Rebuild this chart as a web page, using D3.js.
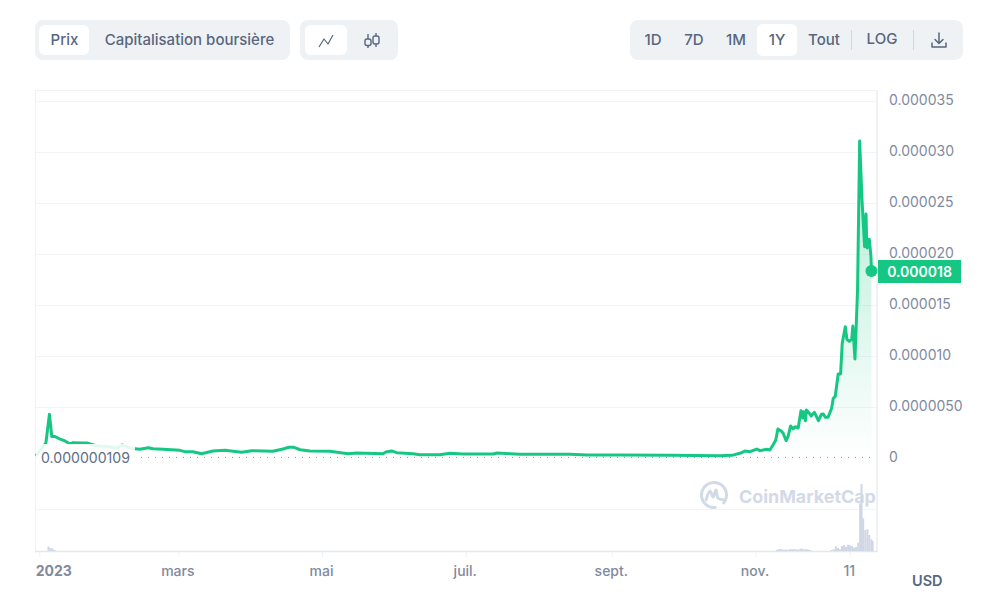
<!DOCTYPE html>
<html><head><meta charset="utf-8">
<script src="https://cdnjs.cloudflare.com/ajax/libs/d3/7.8.5/d3.min.js"></script>
<style>
html,body{margin:0;padding:0;background:#fff;overflow:hidden}
svg{display:block}
text{font-family:Inter,"Noto Sans",sans-serif}
</style></head><body>
<svg id="c" width="989" height="600"></svg>
<script>
// Days since 2023-01-01
const priceDays = [
 -1.4,2.8,4.3,5.3,6.7,8.8,10.9,13.1,14.3,18.6,
 20.2,24.5,28.7,33,35.1,38.5,40.6,42.7,46.3,48.3,
 52.5,59.7,61.8,65.2,68.9,73.7,78.8,85.9,90.2,99.2,
 103.4,106,108.1,110.7,114.9,123.4,131,134.7,145.9,147.1,
 149.6,151.7,158.6,161.6,170,174.3,179.8,192.6,194.3,199.8,
 204,225.2,232.5,246.5,267.7,288.9,294,298.1,299.5,301.7,
 304.5,305.9,308.7,310.1,311.4,312.6,313.5,314.7,315.7,317,
 317.8,318.9,319.9,320.8,322.1,323.3,324.1,324.5,325.2,325.6,
 327.2,327.6,329,330.7,332,332.7,333.7,334.8,336.3,337,
 337.8,339.1,340.1,340.8,342.1,342.8,343.8,344.8,345.3,346.2,
 347.3,348.2,349.2,350.3,350.9,351.2,351.4,352.3,353,353.2];
// Price in millionths of USD
const priceValues = [
 .22,1.49,4.32,2.12,2.12,1.88,1.69,1.39,1.52,1.49,
 1.49,1.2,1.15,1.0,1.3,1.0,.93,.87,1.03,.93,
 .87,.77,.64,.64,.44,.71,.77,.58,.74,.68,
 .9,1.07,1.07,.83,.71,.68,.44,.51,.44,.61,
 .71,.54,.44,.34,.34,.48,.41,.41,.51,.44,
 .38,.38,.31,.31,.28,.25,.28,.54,.71,.64,
 .9,.74,.87,.81,1.3,1.79,2.87,2.7,2.47,1.72,
 2.11,3.16,2.87,3.09,2.96,4.66,3.94,4.56,3.68,4.73,
 4.31,4.14,4.5,3.68,4.31,4.34,4.01,4.01,4.89,5.87,
 6.03,8.26,8.26,11.27,12.89,11.66,11.46,11.66,12.96,9.73,
 16.49,31.1,25.32,20.74,23.94,21.1,20.61,21.46,19.76,18.36];
const volumeDays = [3.9,4.8,5.6,6.5,
 313,313.8,314.7,315.5,316.4,317.2,318.1,318.9,319.8,320.6,321.5,322.3,323.2,324,324.9,325.7,326.6,327.3,
 336.3,337.2,338.1,339,339.8,340.7,341.5,342.4,343.3,344.1,345,345.8,346.7,347.6,348.4,349,349.7,350.6,351.5,352.3,353.2,353.7];
const volumeValues = [10.7,7.1,6,2.4,
 2.4,4.8,4.8,3.6,3.1,3.6,3.1,4.8,4,4.8,3.1,4,5.5,5.5,4,4.8,3.1,1.7,
 2.4,4,11.2,7.1,4,11.9,14.3,10.2,15,13.6,11.9,7.9,9.5,19.8,113.5,159.5,77.8,50,51.6,38,27.8,23.8];
const minPrice = 0.109;
const yTicks = [0,5,10,15,20,25,30,35];
const yTickLabels = ["0","0.0000050","0.000010","0.000015","0.000020","0.000025","0.000030","0.000035"];
const xTickDays = [0,59,120,181,243,304,344];
const xTickLabels = ["2023","mars","mai","juil.","sept.","nov.","11"];
const minLabel = "0.000000109";
const lastLabel = "0.000018";
const metricTabs = ["Prix","Capitalisation boursière"];
const rangeTabs = ["1D","7D","1M","1Y","Tout"];

const svg = d3.select("#c");
const GREEN="#16c784", TXT="#58667e", AX="#7f8a9e", PANEL="#eff2f5";
const day0 = Date.UTC(2023,0,1);
const toDate = d => new Date(day0 + d*864e5);
const x = d3.scaleUtc().domain([toDate(0),toDate(365)]).range([39.3,39.3+2.356*365]);
const y = d3.scaleLinear().domain([0,35]).range([458.2,101.2]);
const yv = d3.scaleLinear().domain([0,100]).range([551,509]);
const series = d3.zip(priceDays,priceValues);
const defs = svg.append("defs");
const g = defs.append("linearGradient").attr("id","ag").attr("gradientUnits","userSpaceOnUse")
 .attr("x1",0).attr("x2",0).attr("y1",y(31)).attr("y2",y(0));
g.append("stop").attr("offset",0).attr("stop-color",GREEN).attr("stop-opacity",.34);
g.append("stop").attr("offset",1).attr("stop-color",GREEN).attr("stop-opacity",0);

// Frame
const frame = svg.append("g");
frame.append("line").attr("x1",35.5).attr("x2",35.5).attr("y1",90).attr("y2",552).attr("stroke","#eff2f5");
frame.append("line").attr("x1",35).attr("x2",877).attr("y1",90.5).attr("y2",90.5).attr("stroke","#eff2f5");
frame.append("line").attr("x1",877).attr("x2",877).attr("y1",90).attr("y2",552).attr("stroke","#eff2f5").attr("stroke-width",2);
frame.append("line").attr("x1",35).attr("x2",878).attr("y1",551.5).attr("y2",551.5).attr("stroke","#e3e7ee").attr("stroke-width",1.5);
frame.append("line").attr("x1",36).attr("x2",876).attr("y1",509.5).attr("y2",509.5).attr("stroke","#f2f4f7");

// Horizontal grid + y axis
svg.append("g").selectAll("line").data(yTicks.filter(d=>d>0)).join("line")
 .attr("x1",36).attr("x2",876).attr("y1",d=>Math.round(y(d))+.5).attr("y2",d=>Math.round(y(d))+.5)
 .attr("stroke","#f2f4f7");
const ya = svg.append("g").attr("transform","translate(877,0)")
 .call(d3.axisRight(y).tickValues(yTicks).tickSize(0).tickPadding(12)
   .tickFormat((d,i)=>yTickLabels[i]));
ya.select(".domain").remove();
ya.selectAll("text").attr("font-size",14).attr("fill",AX).attr("dy","0.24em").style("font-family","Inter");

// x axis
const xa = svg.append("g").attr("transform","translate(0,552)")
 .call(d3.axisBottom(x).tickValues(xTickDays.map(toDate)).tickSize(5).tickPadding(9)
   .tickFormat((d,i)=>xTickLabels[i]));
xa.select(".domain").remove();
xa.selectAll("line").attr("stroke","#eff2f5");
xa.selectAll("text").attr("font-size",14).attr("font-weight",500).attr("fill",AX).attr("dx",-1).style("font-family","Inter");
xa.selectAll("text").filter((d,i)=>i===0).attr("font-weight",700).attr("dx",14);

// Watermark
const wm = svg.append("g").attr("fill","#d3dae7");
wm.append("text").attr("x",739).attr("y",503).attr("font-size",17.9).attr("font-weight",700).text("CoinMarketCap");
const lg = wm.append("g").attr("transform","translate(714,495)").attr("fill","none").attr("stroke","#d3dae7").attr("stroke-width",3).attr("stroke-linecap","round").attr("stroke-linejoin","round");
lg.append("path").attr("d",d3.arc()({innerRadius:12.5,outerRadius:12.5,startAngle:-Math.PI*1.03,endAngle:Math.PI*0.72}));
lg.append("path").attr("d",d3.line().curve(d3.curveCatmullRom)([[-8,5],[-4,-4],[-1,2],[2,-5],[4,3],[10,5]]));

// Volume
svg.append("g").selectAll("rect").data(d3.zip(volumeDays,volumeValues)).join("rect")
 .attr("x",d=>x(toDate(d[0]))-1).attr("width",2)
 .attr("y",d=>yv(d[1])).attr("height",d=>yv(0)-yv(d[1])).attr("fill","#cfd6e4");

// Area + line
svg.append("path").datum(series).attr("fill","url(#ag)")
 .attr("d",d3.area().x(d=>x(toDate(d[0]))).y1(d=>y(d[1])).y0(y(0)));
svg.append("line").attr("x1",36).attr("x2",872).attr("y1",y(minPrice)+.3).attr("y2",y(minPrice)+.3)
 .attr("stroke","#8a93a3").attr("stroke-dasharray","1 6");
svg.append("path").datum(series).attr("fill","none").attr("stroke",GREEN).attr("stroke-width",3)
 .attr("stroke-linejoin","round")
 .attr("d",d3.line().x(d=>x(toDate(d[0]))).y(d=>y(d[1])));
const last = series[series.length-1];
svg.append("circle").attr("cx",x(toDate(last[0]))).attr("cy",y(last[1])).attr("r",6).attr("fill",GREEN);

// Min label
svg.append("rect").attr("x",36).attr("y",444).attr("width",99).attr("height",24).attr("fill","#fff").attr("fill-opacity",.88);
svg.append("text").attr("x",41).attr("y",462.5).attr("font-size",14.1).attr("fill","#616e85").text(minLabel);

// Last price tag
svg.append("rect").attr("x",878).attr("y",260).attr("width",83).attr("height",23).attr("fill",GREEN);
svg.append("text").attr("x",919.5).attr("y",276.5).attr("text-anchor","middle").attr("font-size",14).attr("font-weight",600).attr("fill","#fff").text(lastLabel);

// USD
svg.append("text").attr("x",912).attr("y",586).attr("font-size",14.5).attr("font-weight",600).attr("fill",TXT).text("USD");

// Toolbar
const tb = svg.append("g");
const panel=(a,b,t,h,f,r)=>tb.append("rect").attr("x",a).attr("y",t).attr("width",b-a).attr("height",h).attr("rx",r).attr("fill",f);
panel(35,290,20,40,PANEL,8); panel(39,89,25,30,"#fff",6);
panel(300,398,20,40,PANEL,8); panel(305,347,25,30,"#fff",6);
panel(630,963,20,40,PANEL,8); panel(757,797,24,32,"#fff",6);
const label=(s,xx,yy,anchor)=>tb.append("text").attr("x",xx).attr("y",yy).attr("text-anchor",anchor||"middle").attr("font-size",15).attr("font-weight",500).attr("fill",TXT).text(s);
label(metricTabs[0],64.5,45); label(metricTabs[1],189.5,45);
[653,694,736,777,824].forEach((c,i)=>label(rangeTabs[i],c,45));
label("LOG",882,44);
tb.selectAll("line.sep").data([851.5,913.5]).join("line").attr("class","sep").attr("x1",d=>d).attr("x2",d=>d).attr("y1",30).attr("y2",50).attr("stroke","#cfd6e4");
// icons
const ic = tb.append("g").attr("fill","none").attr("stroke",TXT).attr("stroke-width",1.2).attr("stroke-linejoin","round");
ic.append("path").attr("d","M319 47L324 39L328 44L333 35");
const ic2 = tb.append("g").attr("fill","none").attr("stroke",TXT).attr("stroke-width",1.4);
ic2.append("path").attr("d","M368 34V48M376 33V47");
ic2.append("rect").attr("x",365).attr("y",39).attr("width",6).attr("height",6.5).attr("rx",2).attr("fill",PANEL);
ic2.append("rect").attr("x",373).attr("y",36).attr("width",6).attr("height",8).attr("rx",2).attr("fill",PANEL);
const ic3 = tb.append("g").attr("fill","none").attr("stroke",TXT).attr("stroke-width",1.5).attr("stroke-linecap","round").attr("stroke-linejoin","round");
ic3.append("path").attr("d","M939 33V43M935 39.5L939 43.5L943 39.5M932 43V47H946V43");
</script>
</body></html>
